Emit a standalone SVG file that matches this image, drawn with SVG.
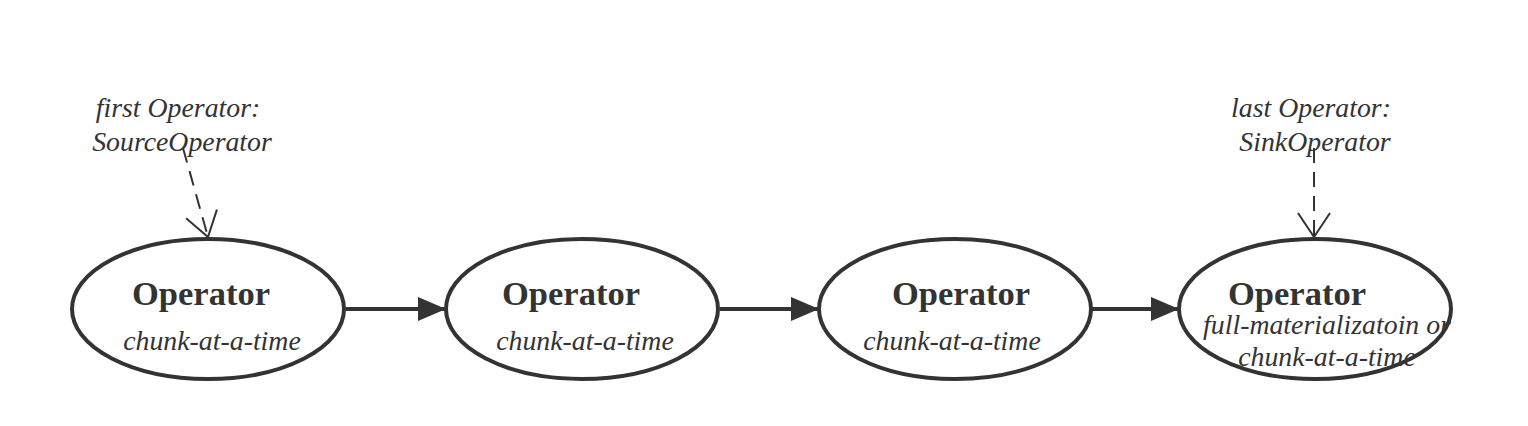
<svg xmlns="http://www.w3.org/2000/svg" width="1528" height="426" viewBox="0 0 1528 426">
<style>
.node ellipse{fill:#fff;stroke:#333;stroke-width:4}
.title{font-family:"Liberation Serif",serif;font-weight:bold;font-size:34.5px;fill:#333;text-anchor:middle}
.sub{font-family:"Liberation Serif",serif;font-style:italic;font-size:27.8px;fill:#333;text-anchor:middle}
.note{font-family:"Liberation Serif",serif;font-style:italic;font-size:27.8px;fill:#333;text-anchor:middle}
.flow{stroke:#333;stroke-width:4;fill:none}
.dash{stroke:#333;stroke-width:2;fill:none;stroke-dasharray:15 9}
</style>
<defs>
<marker id="tri" markerUnits="userSpaceOnUse" markerWidth="30" markerHeight="26" refX="28" refY="12" orient="auto" viewBox="0 0 30 26">
<path d="M0,0 L28,12 L0,24 Z" fill="#333"/>
</marker>
<marker id="vee" markerUnits="userSpaceOnUse" markerWidth="40" markerHeight="40" refX="25" refY="18" orient="auto" viewBox="0 0 40 40">
<path d="M1,2 L25,18 L1,34" fill="none" stroke="#333" stroke-width="2"/>
</marker>
</defs>
<rect width="1528" height="426" fill="#fff"/>
<g id="connectors">
<line class="flow" x1="346" y1="309" x2="446" y2="309" marker-end="url(#tri)"/>
<line class="flow" x1="720" y1="309" x2="819" y2="309" marker-end="url(#tri)"/>
<line class="flow" x1="1092" y1="309" x2="1179" y2="309" marker-end="url(#tri)"/>
<line class="dash" x1="183" y1="148" x2="208" y2="237" marker-end="url(#vee)"/>
<line class="dash" x1="1314" y1="148" x2="1314" y2="237" marker-end="url(#vee)"/>
</g>
<g id="note-first">
<text class="note" x="178" y="117">first Operator:</text>
<text class="note" x="182" y="151">SourceOperator</text>
</g>
<g id="note-last">
<text class="note" x="1311" y="117">last Operator:</text>
<text class="note" x="1315" y="151">SinkOperator</text>
</g>
<g id="node1" class="node">
<ellipse cx="208" cy="309" rx="136" ry="70"/>
<text class="title" x="201" y="305">Operator</text>
<text class="sub" x="212" y="350">chunk-at-a-time</text>
</g>
<g id="node2" class="node">
<ellipse cx="582" cy="309" rx="136" ry="70"/>
<text class="title" x="571" y="305">Operator</text>
<text class="sub" x="585" y="350">chunk-at-a-time</text>
</g>
<g id="node3" class="node">
<ellipse cx="955" cy="309" rx="136" ry="70"/>
<text class="title" x="961" y="305">Operator</text>
<text class="sub" x="952" y="350">chunk-at-a-time</text>
</g>
<g id="node4" class="node">
<ellipse cx="1315" cy="309" rx="136" ry="70"/>
<text class="title" x="1297" y="305">Operator</text>
<text class="sub" x="1327" y="334">full-materializatoin or</text>
<text class="sub" x="1327" y="366">chunk-at-a-time</text>
</g>
</svg>
